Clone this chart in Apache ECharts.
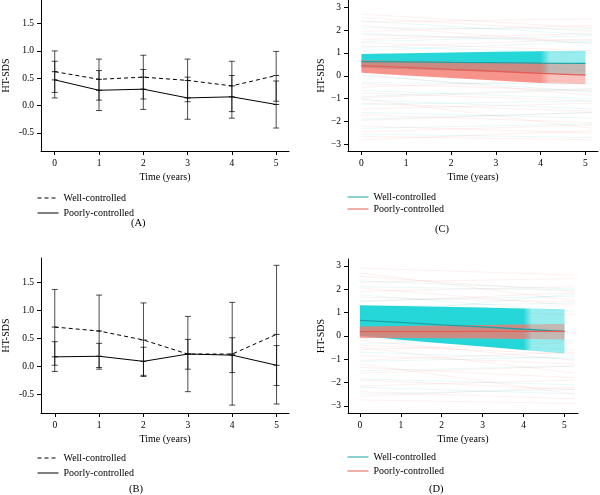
<!DOCTYPE html>
<html>
<head>
<meta charset="utf-8">
<title>HT-SDS over time</title>
<script src="https://cdn.jsdelivr.net/npm/echarts@6/dist/echarts.min.js"></script>
<style>
html, body { margin: 0; padding: 0; background: #fff; }
#Chart { width: 600px; height: 495px; }
</style>
</head>
<body>
<div id="Chart"></div>
<script>
var years = [0, 1, 2, 3, 4, 5];
var xTicks = [0, 1, 2, 3, 4, 5];
var yTicksAB = [-0.5, 0, 0.5, 1, 1.5];
var yTicksCD = [-3, -2, -1, 0, 1, 2, 3];

// (A) observed means with error bars
var aWellMean = [0.62, 0.48, 0.52, 0.46, 0.36, 0.55];
var aWellLow  = [0.24, 0.10, 0.12, 0.07, -0.11, 0.08];
var aWellHigh = [1.00, 0.85, 0.92, 0.85, 0.81, 0.99];
var aPoorMean = [0.47, 0.28, 0.30, 0.14, 0.16, 0.02];
var aPoorLow  = [0.14, -0.09, -0.07, -0.25, -0.23, -0.41];
var aPoorHigh = [0.81, 0.64, 0.66, 0.52, 0.55, 0.45];

// (B)
var bWellMean = [0.70, 0.63, 0.47, 0.22, 0.22, 0.57];
var bWellLow  = [0.02, -0.02, -0.18, -0.45, -0.69, -0.67];
var bWellHigh = [1.37, 1.27, 1.13, 0.89, 1.14, 1.80];
var bPoorMean = [0.17, 0.18, 0.09, 0.22, 0.20, 0.02];
var bPoorLow  = [-0.09, -0.05, -0.16, -0.05, -0.11, -0.34];
var bPoorHigh = [0.44, 0.41, 0.34, 0.48, 0.51, 0.37];

// (C) model fit with bands
var cWellFit  = [0.62, 0.61, 0.59, 0.58, 0.56, 0.55];
var cWellLow  = [0.35, 0.29, 0.23, 0.17, 0.10, 0.03];
var cWellHigh = [0.96, 0.99, 1.02, 1.05, 1.08, 1.10];
var cPoorFit  = [0.45, 0.37, 0.28, 0.20, 0.11, 0.03];
var cPoorLow  = [0.13, 0.02, -0.09, -0.20, -0.31, -0.37];
var cPoorHigh = [0.68, 0.65, 0.62, 0.60, 0.57, 0.55];

// (D)
var dWellFit  = [0.66, 0.57, 0.47, 0.38, 0.28, 0.19];
var dWellLow  = [0.00, -0.17, -0.32, -0.46, -0.61, -0.76];
var dWellHigh = [1.31, 1.28, 1.24, 1.21, 1.17, 1.14];
var dPoorFit  = [0.18, 0.18, 0.18, 0.19, 0.19, 0.19];
var dPoorLow  = [-0.09, -0.10, -0.11, -0.12, -0.14, -0.16];
var dPoorHigh = [0.40, 0.42, 0.44, 0.46, 0.48, 0.52];

// individual trajectories, [value at start, value at end]
var cPoorPaths = [[2.55,1.95],[2.35,2.5],[2.2,1.4],[1.95,2.2],[1.8,1.55],[1.6,1.85],[1.45,1.1],[1.25,1.6],
  [-0.35,-0.65],[-0.5,-0.15],[-0.75,-1.1],[-0.95,-0.6],[-1.2,-1.55],[-1.45,-1.2],[-1.7,-2.05],[-1.95,-1.6],
  [-2.2,-2.5],[-2.45,-2.15],[-2.65,-2.8],[-2.8,-2.4],[0.05,-0.85],[1.05,0.2],[-1.0,-2.3],[2.7,2.1]];
var cWellPaths = [[2.1,2.05],[1.85,1.45],[1.5,1.75],[1.3,1.0],[-0.3,-0.35],[-0.65,-1.0],[-0.9,-0.55],[-1.25,-1.1],
  [-1.6,-1.85],[-1.9,-1.6],[-2.3,-2.1],[-2.55,-2.7],[2.4,1.8],[0.0,-0.7],[1.1,1.5],[-1.05,-1.45]];
var dPoorPaths = [[2.55,1.9],[2.3,2.45],[2.05,1.3],[1.9,2.1],[1.65,1.45],[1.45,1.85],[1.2,0.9],[-0.4,-0.8],
  [-0.6,-0.3],[-0.85,-1.2],[-1.05,-0.7],[-1.35,-1.8],[-1.6,-1.3],[-1.9,-2.3],[-2.15,-1.9],[-2.4,-2.7],
  [-2.6,-2.2],[-2.75,-2.9],[-0.2,-1.05],[2.7,1.5],[0.95,0.1],[-1.2,-2.5],[2.9,2.6],[-0.5,-1.6]];
var dWellPaths = [[2.1,1.95],[1.75,1.05],[1.5,1.7],[-0.35,-0.2],[-0.7,-1.0],[-1.1,-0.9],[-1.5,-1.3],[-1.85,-2.1],
  [-2.2,-2.5],[-2.5,-2.3],[0.9,1.8],[2.35,2.0],[-0.1,-0.6],[1.25,1.4]];

var FONT = 'Liberation Serif';
var TEAL = '#1aa3a6';
var RED = '#e65e56';

function pairs(arr) {
    return years.map(function (t, i) { return [t, arr[i]]; });
}

function xAx(gi, min, max) {
    return {
        type: 'value', gridIndex: gi, min: min, max: max,
        name: 'Time (years)', nameLocation: 'middle', nameGap: 21,
        nameTextStyle: { fontFamily: FONT, fontSize: 10, color: '#000' },
        axisLine: { show: true, onZero: false, lineStyle: { color: '#000', width: 1 } },
        axisTick: { show: true, length: 4, customValues: xTicks, lineStyle: { color: '#000' } },
        axisLabel: { customValues: xTicks, margin: 7, fontFamily: FONT, fontSize: 9.5, color: '#000' },
        splitLine: { show: false }
    };
}

function yAx(gi, min, max, ticks, gap, fmt) {
    return {
        type: 'value', gridIndex: gi, min: min, max: max,
        name: 'HT-SDS', nameLocation: 'middle', nameGap: gap, nameRotate: 90,
        nameTextStyle: { fontFamily: FONT, fontSize: 10, color: '#000' },
        axisLine: { show: true, onZero: false, lineStyle: { color: '#000', width: 1 } },
        axisTick: { show: true, length: 4, customValues: ticks, lineStyle: { color: '#000' } },
        axisLabel: { customValues: ticks, margin: 7, fontFamily: FONT, fontSize: 9.5, color: '#000', formatter: fmt },
        splitLine: { show: false }
    };
}

function meanLine(name, gi, arr, dashed) {
    return {
        type: 'line', name: name, xAxisIndex: gi, yAxisIndex: gi, data: pairs(arr),
        symbol: 'none', silent: true, z: 5,
        itemStyle: { color: '#000' },
        lineStyle: { color: '#000', width: 1, type: dashed ? [4, 3] : 'solid' }
    };
}

function meanMarks(gi, arr) {
    return {
        type: 'scatter', xAxisIndex: gi, yAxisIndex: gi, data: pairs(arr),
        symbol: 'rect', symbolSize: [6, 1], silent: true, z: 6,
        itemStyle: { color: '#000' }
    };
}

function errorBars(gi, lo, hi) {
    return {
        type: 'custom', xAxisIndex: gi, yAxisIndex: gi, silent: true, z: 4,
        data: years.map(function (t, i) { return [t, lo[i], hi[i]]; }),
        renderItem: function (params, api) {
            var a = api.coord([api.value(0), api.value(1)]);
            var b = api.coord([api.value(0), api.value(2)]);
            var w = 3;
            var st = { stroke: 'rgba(0,0,0,0.7)', lineWidth: 1 };
            return {
                type: 'group', children: [
                    { type: 'line', shape: { x1: a[0], y1: a[1], x2: b[0], y2: b[1] }, style: st },
                    { type: 'line', shape: { x1: a[0] - w, y1: a[1], x2: a[0] + w, y2: a[1] }, style: st },
                    { type: 'line', shape: { x1: b[0] - w, y1: b[1], x2: b[0] + w, y2: b[1] }, style: st }
                ]
            };
        }
    };
}

function fade(rgb, a1, a2) {
    return new echarts.graphic.LinearGradient(0, 0, 1, 0, [
        { offset: 0, color: 'rgba(' + rgb + ',' + a1 + ')' },
        { offset: 0.8, color: 'rgba(' + rgb + ',' + a1 + ')' },
        { offset: 0.84, color: 'rgba(' + rgb + ',' + a2 + ')' },
        { offset: 1, color: 'rgba(' + rgb + ',' + a2 + ')' }
    ]);
}

// confidence band drawn as one polygon through the axis scales
function band(gi, lo, hi, rgb, a1, a2) {
    return {
        type: 'custom', xAxisIndex: gi, yAxisIndex: gi, silent: true, z: 2,
        data: years.map(function (t, i) { return [t, lo[i], hi[i]]; }),
        renderItem: function (params, api) {
            if (params.dataIndex !== 0) return null;
            var pts = [];
            years.forEach(function (t, i) { pts.push(api.coord([t, hi[i]])); });
            for (var i = years.length - 1; i >= 0; i--) pts.push(api.coord([years[i], lo[i]]));
            return { type: 'polygon', shape: { points: pts }, style: { fill: fade(rgb, a1, a2) } };
        }
    };
}

function paths(gi, list, color, xEnd) {
    return {
        type: 'lines', coordinateSystem: 'cartesian2d', xAxisIndex: gi, yAxisIndex: gi,
        silent: true, z: 1,
        data: list.map(function (p) { return { coords: [[0, p[0]], [xEnd, p[1]]] }; }),
        lineStyle: { color: color, width: 0.8, opacity: 1 }
    };
}

function fitLine(name, gi, arr, color) {
    return {
        type: 'line', name: name, xAxisIndex: gi, yAxisIndex: gi, data: pairs(arr),
        symbol: 'none', silent: true, z: 3, itemStyle: { color: color },
        lineStyle: { color: color, width: 1.3 }
    };
}

function fmtAB(v) { return v.toFixed(1); }
function fmtCD(v) { return v < 0 ? '\u2212' + Math.abs(v) : String(v); }

function legendAt(left, top, gap, styled) {
    return {
        left: left, top: top, orient: 'vertical', padding: 0, itemGap: gap,
        itemWidth: 21, itemHeight: 8, selectedMode: false,
        itemStyle: { opacity: 0 },
        textStyle: { fontFamily: FONT, fontSize: 10, color: '#000' },
        data: [
            { name: 'Well-controlled', lineStyle: styled ? { color: TEAL, type: 'solid', width: 1 } : { color: '#000', type: [4, 3], width: 1 } },
            { name: 'Poorly-controlled', lineStyle: styled ? { color: RED, type: 'solid', width: 1 } : { color: '#000', type: 'solid', width: 1 } }
        ]
    };
}

function label(text, left, top) {
    return { text: text, left: left, top: top, padding: 0,
        textStyle: { fontFamily: FONT, fontSize: 10.5, fontWeight: 'normal', color: '#000' } };
}

var series = [];
// A
series.push(errorBars(0, aWellLow, aWellHigh), errorBars(0, aPoorLow, aPoorHigh));
series.push(meanLine('Well-controlled', 0, aWellMean, true), meanLine('Poorly-controlled', 0, aPoorMean, false));
series.push(meanMarks(0, aWellMean), meanMarks(0, aPoorMean));
// B
series.push(errorBars(1, bWellLow, bWellHigh), errorBars(1, bPoorLow, bPoorHigh));
series.push(meanLine('Well-controlled', 1, bWellMean, true), meanLine('Poorly-controlled', 1, bPoorMean, false));
series.push(meanMarks(1, bWellMean), meanMarks(1, bPoorMean));
// C
series.push(paths(2, cPoorPaths, 'rgba(248,118,109,0.14)', 5.15), paths(2, cWellPaths, 'rgba(0,191,196,0.12)', 5.15));
series.push(band(2, cWellLow, cWellHigh, '0,208,210', 0.85, 0.4));
series.push(band(2, cPoorLow, cPoorHigh, '244,120,110', 0.8, 0.45));
series.push(fitLine('Well-controlled', 2, cWellFit, TEAL), fitLine('Poorly-controlled', 2, cPoorFit, RED));
// D
series.push(paths(3, dPoorPaths, 'rgba(248,118,109,0.14)', 5.25), paths(3, dWellPaths, 'rgba(0,191,196,0.12)', 5.25));
series.push(band(3, dWellLow, dWellHigh, '0,208,210', 0.85, 0.4));
series.push(band(3, dPoorLow, dPoorHigh, '244,120,110', 0.8, 0.45));
series.push(fitLine('Well-controlled', 3, dWellFit, TEAL), fitLine('Poorly-controlled', 3, dPoorFit, RED));

var Chart = echarts.init(document.getElementById('Chart'));

var ChartOption = {
    animation: false,
    backgroundColor: '#fff',
    title: [label('(A)', 131, 218), label('(C)', 435, 224), label('(B)', 129, 484), label('(D)', 429, 484)],
    legend: [legendAt(37, 193, 5, false), legendAt(347, 192, 2, true), legendAt(37, 453, 5, false), legendAt(347, 452, 4, true)],
    grid: [
        { left: 38, top: 0, width: 251, height: 151 },
        { left: 38, top: 258, width: 251, height: 155 },
        { left: 348, top: 0, width: 250, height: 151 },
        { left: 348, top: 259, width: 230, height: 154 }
    ],
    xAxis: [xAx(0, -0.31, 5.29), xAx(1, -0.31, 5.28), xAx(2, -0.30, 5.28), xAx(3, -0.29, 5.33)],
    yAxis: [
        yAx(0, -0.83, 1.93, yTicksAB, 30, fmtAB),
        yAx(1, -0.83, 1.93, yTicksAB, 30, fmtAB),
        yAx(2, -3.29, 3.32, yTicksCD, 22, fmtCD),
        yAx(3, -3.31, 3.29, yTicksCD, 22, fmtCD)
    ],
    series: series
};

Chart.setOption(ChartOption);
window.addEventListener("resize", function () {
    Chart.resize();
});
</script>
</body>
</html>
